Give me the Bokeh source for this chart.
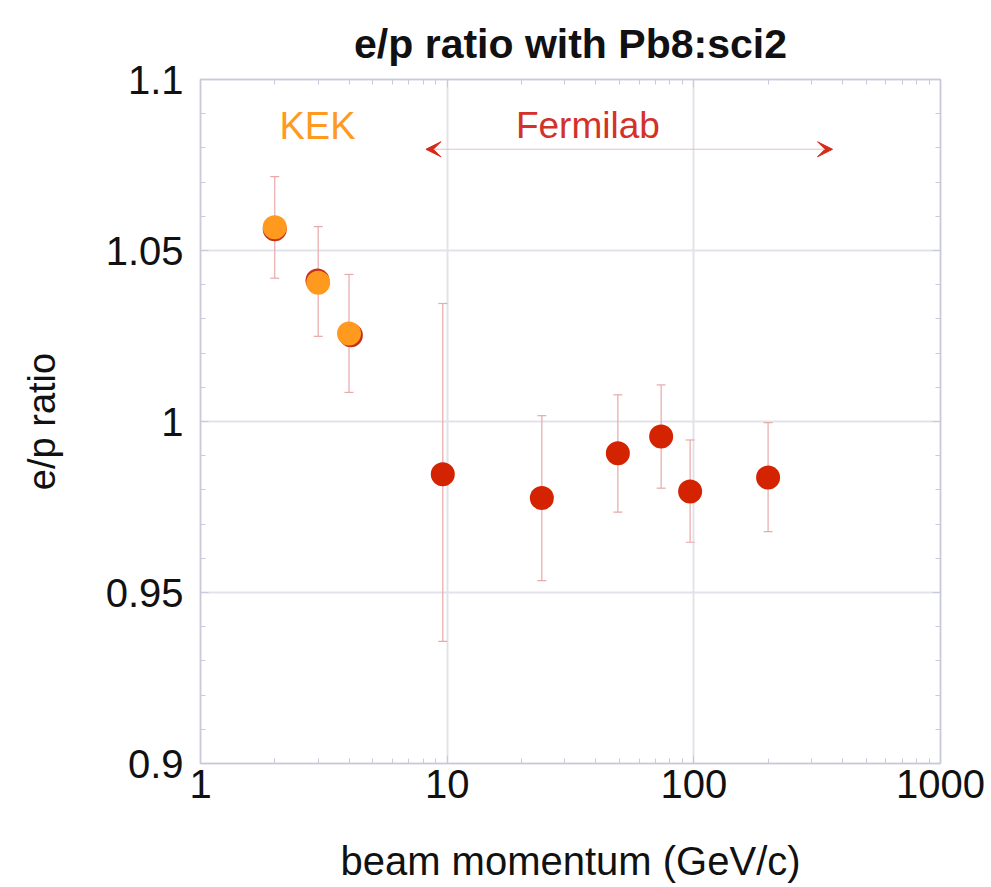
from bokeh.plotting import figure
from bokeh.models import (ColumnDataSource, Whisker, TeeHead, FixedTicker, LinearAxis,
                          LogAxis, Label, Arrow, VeeHead, Range1d)
from bokeh.embed import file_html
from bokeh.resources import INLINE

# ---- data ----
kek_x = [2.0, 3.0, 4.0]
kek_y = [1.0568, 1.0406, 1.0257]
kek_upper = [1.0716, 1.0570, 1.0430]
kek_lower = [1.0419, 1.0249, 1.0085]

kek_red_x = [2.0, 2.98, 4.07]
kek_red_y = [1.0562, 1.0412, 1.0252]

fnal_x = [9.6, 24.2, 49.2, 73.7, 96.6, 200.0]
fnal_y = [0.9846, 0.9776, 0.9907, 0.9956, 0.9795, 0.9836]
fnal_upper = [1.0345, 1.0017, 1.0078, 1.0107, 0.9946, 0.9997]
fnal_lower = [0.9357, 0.9535, 0.9735, 0.9805, 0.9647, 0.9678]

x_ticks = [1, 10, 100, 1000]
x_tick_labels = ["1", "10", "100", "1000"]
x_minor = [m * d for d in (1, 10, 100) for m in range(2, 10)]
y_ticks = [0.9, 0.95, 1.0, 1.05, 1.1]
y_tick_labels = ["0.9", "0.95", "1", "1.05", "1.1"]
y_minor = [round(0.9 + 0.01 * i, 2) for i in range(21)]

FONT = "Liberation Sans"
FRAME = "#c9c9de"
GRID = "#e2e2ec"
RED = "#d42300"
ORANGE = "#ff9a1f"
ERR = "#e7a9a9"

p = figure(x_axis_type="log", x_range=Range1d(1, 1000), y_range=Range1d(0.9, 1.1),
           frame_width=740, frame_height=684,
           min_border_left=200, min_border_right=48, min_border_top=79, min_border_bottom=118,
           output_backend="svg", toolbar_location=None,
           title="e/p ratio with Pb8:sci2")

p.title.text_font = FONT
p.title.text_font_size = "41px"
p.title.text_font_style = "bold"
p.title.align = "center"
p.title.text_color = "#111111"
p.title.standoff = 26

p.outline_line_color = FRAME
p.outline_line_width = 1.5
p.background_fill_color = "white"
p.border_fill_color = "white"

def style_axis(ax, show_labels):
    ax.axis_line_color = FRAME
    ax.axis_line_width = 1.5
    ax.major_tick_line_color = FRAME
    ax.minor_tick_line_color = FRAME
    ax.major_tick_in = 8
    ax.major_tick_out = 0
    ax.minor_tick_in = 5
    ax.minor_tick_out = 0
    ax.major_label_text_font = FONT
    ax.major_label_text_color = "#111111"
    if show_labels:
        ax.major_label_text_font_size = "40px"
    else:
        ax.major_label_text_font_size = "2px"
        ax.major_label_text_alpha = 0
        ax.major_label_standoff = 0

xa = p.xaxis[0]
xa.ticker = FixedTicker(ticks=x_ticks, minor_ticks=x_minor)
xa.major_label_overrides = {t: s for t, s in zip(x_ticks, x_tick_labels)}
style_axis(xa, True)
xa.major_label_standoff = 6
xa.axis_label = "beam momentum (GeV/c)"
xa.axis_label_text_font = FONT
xa.axis_label_text_font_size = "40px"
xa.axis_label_text_font_style = "normal"
xa.axis_label_text_color = "#111111"
xa.axis_label_standoff = 38

ya = p.yaxis[0]
ya.ticker = FixedTicker(ticks=y_ticks, minor_ticks=y_minor)
ya.major_label_overrides = {t: s for t, s in zip(y_ticks, y_tick_labels)}
style_axis(ya, True)
ya.major_label_standoff = 17
ya.axis_label = "e/p ratio"
ya.axis_label_text_font = FONT
ya.axis_label_text_font_size = "38px"
ya.axis_label_text_font_style = "normal"
ya.axis_label_text_color = "#111111"
ya.axis_label_standoff = 40

top = LogAxis(ticker=FixedTicker(ticks=x_ticks, minor_ticks=x_minor))
style_axis(top, False)
p.add_layout(top, "above")
right = LinearAxis(ticker=FixedTicker(ticks=y_ticks, minor_ticks=y_minor))
style_axis(right, False)
p.add_layout(right, "right")

p.xgrid.ticker = FixedTicker(ticks=x_ticks)
p.ygrid.ticker = FixedTicker(ticks=y_ticks)
p.xgrid.grid_line_color = GRID
p.ygrid.grid_line_color = GRID
p.xgrid.grid_line_width = 2
p.ygrid.grid_line_width = 2

# error bars
kek_src = ColumnDataSource(dict(x=kek_x, y=kek_y, upper=kek_upper, lower=kek_lower))
kek_red_src = ColumnDataSource(dict(x=kek_red_x, y=kek_red_y))
fnal_src = ColumnDataSource(dict(x=fnal_x, y=fnal_y, upper=fnal_upper, lower=fnal_lower))

for src in (kek_src, fnal_src):
    w = Whisker(source=src, base="x", upper="upper", lower="lower", dimension="height",
                line_color=ERR, line_width=1.2,
                upper_head=TeeHead(size=9, line_color=ERR, line_width=1.2),
                lower_head=TeeHead(size=9, line_color=ERR, line_width=1.2))
    w.level = "underlay"
    p.add_layout(w)

p.scatter("x", "y", source=kek_red_src, size=24, fill_color="#c8301a", line_color=None)
p.scatter("x", "y", source=kek_src, size=24, fill_color=ORANGE, line_color=None)
p.scatter("x", "y", source=fnal_src, size=24, fill_color=RED, line_color=None)

# annotations
p.add_layout(Label(x=2.98, y=1.0865, text="KEK", text_font=FONT, text_font_size="38px",
                   text_color=ORANGE, text_align="center", text_baseline="middle"))
p.add_layout(Label(x=37.2, y=1.0865, text="Fermilab", text_font=FONT, text_font_size="37px",
                   text_color="#d2322a", text_align="center", text_baseline="middle"))
p.add_layout(Arrow(x_start=8.2, y_start=1.0796, x_end=365, y_end=1.0796,
                   line_color="#ecbcbc", line_width=1.2,
                   start=VeeHead(size=15, fill_color="#d42a1a", line_color="#d42a1a"),
                   end=VeeHead(size=15, fill_color="#d42a1a", line_color="#d42a1a")))

open("out.html", "w").write(file_html(p, INLINE))
